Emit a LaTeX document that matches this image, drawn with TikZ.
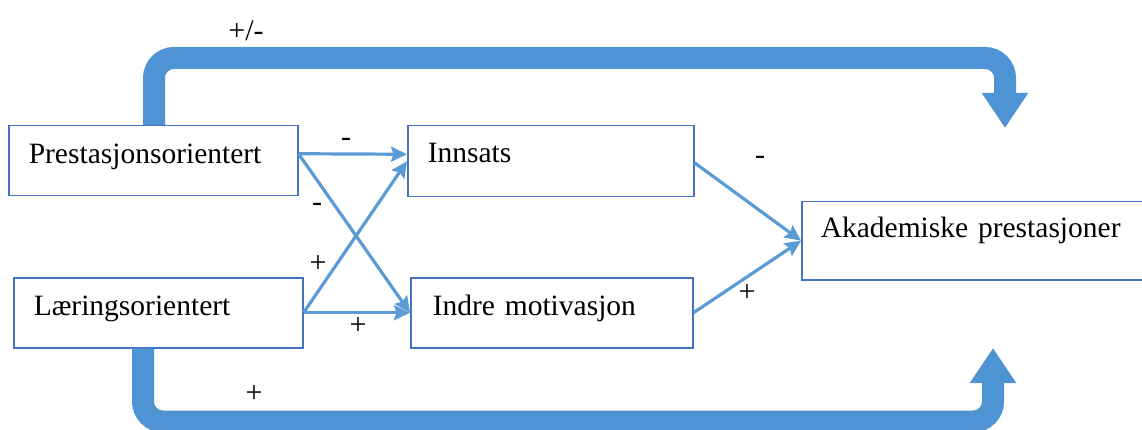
\documentclass[tikz,border=0pt]{standalone}
\usepackage{fontspec}
\setmainfont{Liberation Serif}
\usetikzlibrary{arrows.meta}
\definecolor{boxblue}{HTML}{4472C4}
\definecolor{lineblue}{HTML}{5B9BD5}
\definecolor{fatblue}{HTML}{4E93D3}
\tikzset{
  box/.style={draw=boxblue, line width=1.5pt, anchor=north west, align=left,
    inner xsep=20pt, inner ysep=0pt, text height=38pt, text depth=32pt,
    font=\fontsize{29.5}{35}\selectfont},
  link/.style={draw=lineblue, line width=3.2pt, -{Stealth[length=16pt,width=15pt,inset=2.5pt]}},
  bigarrow/.style={draw=fatblue, line width=22pt, rounded corners=20pt,
    -{Triangle[length=35pt,width=44pt]}},
  sign/.style={font=\fontsize{30}{32}\selectfont, inner sep=0pt}
}

\begin{document}
\begin{tikzpicture}[x=1pt,y=-1pt]
    \useasboundingbox (0,0) rectangle (1142,430);

    % Text boxes
    \node[box, text width=249pt] (P) at (8,125) {Prestasjonsorientert};
    \node[box, text width=249pt] (L) at (13,277) {Læringsorientert};
    \node[box, text width=246pt, text height=37pt, text depth=34pt] (I) at (407,125) {Innsats};
    \node[box, text width=238pt, inner xsep=22pt] (M) at (410,277) {Indre motivasjon};
    \node[box, text width=309pt, inner xsep=19pt, text height=36pt, text depth=42pt] (A) at (801,201) {Akademiske prestasjoner};

    % Free ends of the wide arrows
    \coordinate (topend) at (1005,128);
    \coordinate (botend) at (993,348);

    % Wide arrows round the outside
    \draw[bigarrow] ([xshift=146pt]P.north west) -- ++(0,-67) -| (topend);
    \draw[bigarrow] ([xshift=130pt]L.south west) -- ++(0,73) -| (botend);

    % Thin arrows between the boxes
    \draw[link] ([yshift=7pt]P.east) -- ([yshift=7pt]I.west);
    \draw[link] ([yshift=7pt]P.east) -- (M.west);
    \draw[link] (L.east) -- (I.west);
    \draw[link] (L.east) -- (M.west);
    \draw[link] ([yshift=-1.5pt]I.east) -- (A.west);
    \draw[link] (M.east) -- (A.west);

    % Signs on the arrows
    \node[sign] (s1) at (246,31) {+/-};
    \node[sign] (s2) at (346,142) {-};
    \node[sign] (s3) at (317,207) {-};
    \node[sign] (s4) at (318,264) {+};
    \node[sign] (s5) at (358,326) {+};
    \node[sign] (s6) at (760,160) {-};
    \node[sign] (s7) at (747,293) {+};
    \node[sign] (s8) at (254,394) {+};
\end{tikzpicture}
\end{document}
